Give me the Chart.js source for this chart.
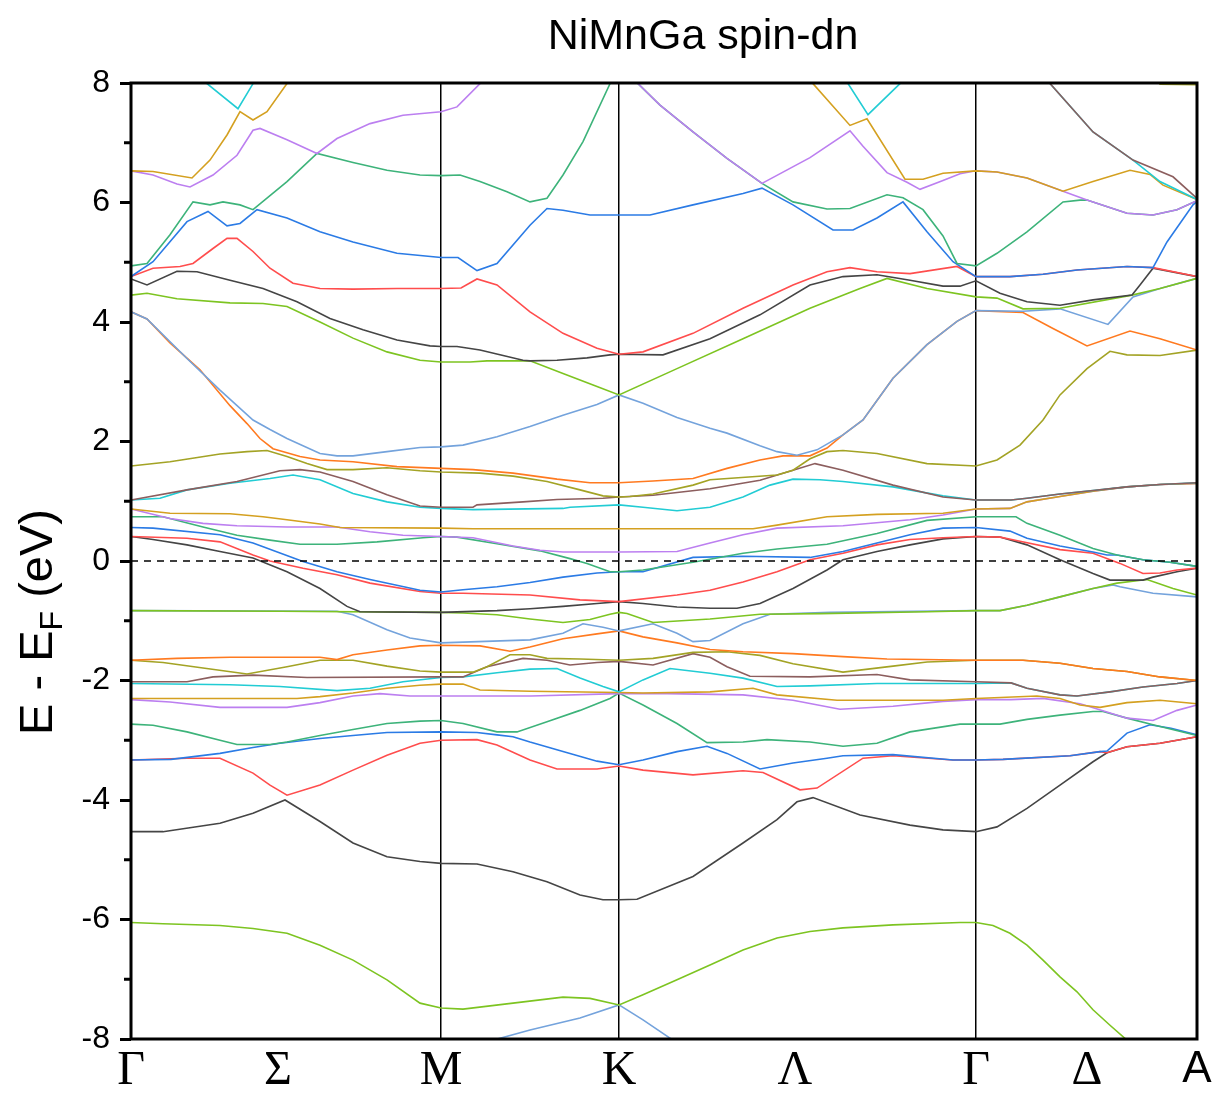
<!DOCTYPE html>
<html>
<head>
<meta charset="utf-8">
<title>NiMnGa spin-dn</title>
<script src="https://cdn.jsdelivr.net/npm/chart.js@4.4.1/dist/chart.umd.min.js"></script>
<style>
  html, body { margin: 0; padding: 0; background: #fff; }
  #wrap { width: 1215px; height: 1093px; }
</style>
</head>
<body>
<div id="wrap"><canvas id="bands" width="1215" height="1093"></canvas></div>
<script>
// path along the Brillouin zone (arb. units) and its labels
const kTicks  = [0, 147, 310, 488, 664, 845, 956, 1066];
const kLabels = ['Γ', 'Σ', 'M', 'K', 'Λ', 'Γ', 'Δ', 'A'];
const kLines  = [310, 488, 845];

const chartTitle = 'NiMnGa spin-dn';

// band colours, cycled with band index
const palette = ['#74a3dc', '#7dc421', '#454545', '#ff4d4d', '#2b7be5', '#3db37a',
                 '#bc7ff0', '#d4a020', '#22ccd4', '#8c5e5e', '#a3a325', '#ff7a20'];

// bands, [k, E - EF] in eV
const band00 = [[270,-8.6],[362,-8.02],[399,-7.85],[449,-7.65],[488,-7.43],[512,-7.68],[542,-8.02],[600,-8.6]];
const band01 = [[0,-6.05],[32,-6.07],[89,-6.1],[122,-6.15],[156,-6.23],[189,-6.43],[222,-6.68],[256,-7.01],[289,-7.4],[310,-7.48],[332,-7.5],[382,-7.4],[432,-7.3],[459,-7.32],[488,-7.43],[512,-7.26],[546,-7.01],[579,-6.76],[612,-6.51],[646,-6.31],[679,-6.2],[712,-6.14],[762,-6.09],[829,-6.05],[845,-6.05],[862,-6.1],[879,-6.23],[896,-6.43],[912,-6.68],[929,-6.96],[946,-7.21],[962,-7.51],[979,-7.77],[996,-8.02],[1066,-9.0]];
const band02 = [[0,-4.53],[32,-4.53],[89,-4.39],[122,-4.22],[154,-4.0],[189,-4.36],[222,-4.72],[256,-4.95],[289,-5.03],[310,-5.06],[346,-5.07],[382,-5.2],[416,-5.37],[449,-5.59],[472,-5.67],[488,-5.67],[506,-5.66],[562,-5.28],[612,-4.72],[646,-4.33],[666,-4.03],[682,-3.96],[729,-4.25],[779,-4.42],[812,-4.5],[845,-4.53],[866,-4.45],[896,-4.14],[929,-3.75],[962,-3.36],[976,-3.21],[996,-3.11],[1029,-3.05],[1066,-2.94]];
const band03 = [[0,-3.33],[56,-3.3],[89,-3.3],[122,-3.55],[139,-3.75],[156,-3.92],[189,-3.75],[222,-3.5],[256,-3.25],[289,-3.05],[310,-3.0],[346,-2.99],[366,-3.08],[399,-3.33],[426,-3.48],[466,-3.48],[488,-3.43],[512,-3.5],[562,-3.58],[612,-3.51],[632,-3.54],[669,-3.83],[686,-3.8],[732,-3.3],[762,-3.26],[822,-3.33],[845,-3.33],[872,-3.32],[939,-3.26],[969,-3.19],[976,-3.21],[996,-3.11],[1029,-3.05],[1066,-2.94]];
const band04 = [[0,-3.33],[40,-3.32],[89,-3.22],[122,-3.12],[149,-3.05],[189,-2.97],[222,-2.92],[256,-2.87],[310,-2.86],[346,-2.87],[366,-2.91],[382,-2.94],[399,-3.03],[432,-3.19],[466,-3.35],[488,-3.41],[512,-3.33],[546,-3.19],[576,-3.1],[596,-3.22],[629,-3.48],[662,-3.38],[696,-3.3],[712,-3.26],[762,-3.24],[822,-3.33],[845,-3.33],[872,-3.32],[939,-3.26],[969,-3.19],[976,-3.18],[996,-2.88],[1019,-2.74],[1040,-2.8],[1066,-2.91]];
const band05 = [[0,-2.73],[22,-2.75],[56,-2.86],[89,-3.0],[106,-3.07],[139,-3.07],[156,-3.03],[189,-2.92],[222,-2.82],[256,-2.72],[289,-2.68],[310,-2.67],[332,-2.72],[366,-2.86],[386,-2.86],[416,-2.69],[449,-2.5],[479,-2.3],[488,-2.21],[512,-2.41],[546,-2.72],[576,-3.04],[612,-3.03],[636,-2.99],[679,-3.03],[712,-3.1],[746,-3.05],[779,-2.86],[829,-2.73],[845,-2.73],[869,-2.73],[896,-2.65],[929,-2.58],[962,-2.52],[972,-2.52],[996,-2.63],[1022,-2.74],[1066,-2.92]];
const band06 = [[0,-2.32],[39,-2.36],[89,-2.45],[156,-2.45],[189,-2.37],[222,-2.26],[249,-2.22],[279,-2.26],[310,-2.26],[400,-2.26],[488,-2.22],[536,-2.22],[612,-2.24],[662,-2.33],[709,-2.48],[762,-2.43],[812,-2.35],[845,-2.32],[880,-2.32],[912,-2.3],[949,-2.39],[959,-2.44],[996,-2.63],[1022,-2.67],[1046,-2.5],[1066,-2.41]];
const band07 = [[0,-2.3],[166,-2.3],[189,-2.27],[222,-2.21],[256,-2.13],[289,-2.08],[310,-2.06],[332,-2.06],[349,-2.16],[399,-2.18],[488,-2.2],[512,-2.21],[579,-2.19],[622,-2.13],[646,-2.24],[706,-2.33],[812,-2.33],[845,-2.3],[906,-2.26],[929,-2.3],[949,-2.41],[969,-2.45],[996,-2.37],[1029,-2.33],[1066,-2.39]];
const band08 = [[0,-2.05],[99,-2.07],[149,-2.1],[206,-2.17],[239,-2.13],[272,-2.02],[310,-1.95],[332,-1.94],[366,-1.87],[399,-1.81],[426,-1.8],[449,-1.96],[472,-2.1],[488,-2.19],[512,-1.99],[539,-1.8],[579,-1.88],[612,-1.96],[646,-2.1],[679,-2.09],[746,-2.05],[845,-2.05],[880,-2.04],[896,-2.13],[929,-2.24],[946,-2.26],[979,-2.19],[1012,-2.11],[1046,-2.05],[1066,-2.0]];
const band09 = [[0,-2.02],[56,-2.02],[82,-1.94],[122,-1.91],[176,-1.95],[310,-1.94],[332,-1.94],[356,-1.77],[392,-1.63],[416,-1.66],[439,-1.74],[466,-1.7],[488,-1.68],[522,-1.74],[562,-1.55],[579,-1.61],[596,-1.77],[619,-1.93],[679,-1.94],[746,-1.9],[779,-1.99],[845,-2.02],[880,-2.04],[896,-2.13],[929,-2.24],[946,-2.26],[979,-2.19],[1012,-2.11],[1046,-2.05],[1066,-2.0]];
const band10 = [[0,-1.66],[32,-1.7],[72,-1.79],[116,-1.89],[156,-1.77],[189,-1.66],[222,-1.66],[256,-1.76],[289,-1.84],[310,-1.86],[342,-1.86],[356,-1.77],[379,-1.57],[399,-1.57],[416,-1.63],[449,-1.64],[488,-1.66],[522,-1.63],[562,-1.53],[596,-1.52],[629,-1.58],[662,-1.72],[712,-1.86],[762,-1.76],[796,-1.69],[845,-1.66],[892,-1.66],[929,-1.71],[962,-1.8],[996,-1.85],[1029,-1.94],[1066,-2.0]];
const band11 = [[0,-1.66],[46,-1.63],[99,-1.61],[189,-1.61],[206,-1.65],[222,-1.57],[256,-1.49],[289,-1.42],[310,-1.41],[349,-1.42],[379,-1.51],[399,-1.44],[432,-1.3],[466,-1.22],[488,-1.17],[512,-1.27],[546,-1.37],[579,-1.48],[612,-1.52],[662,-1.55],[712,-1.6],[756,-1.64],[845,-1.66],[892,-1.66],[929,-1.71],[962,-1.8],[996,-1.85],[1029,-1.94],[1066,-2.0]];
const band12 = [[0,-0.83],[206,-0.84],[222,-0.9],[256,-1.15],[279,-1.29],[310,-1.37],[399,-1.32],[432,-1.21],[452,-1.05],[472,-1.11],[488,-1.17],[522,-1.05],[546,-1.21],[562,-1.35],[579,-1.33],[612,-1.05],[639,-0.89],[699,-0.86],[845,-0.83],[869,-0.83],[896,-0.74],[929,-0.6],[962,-0.46],[982,-0.4],[989,-0.43],[1022,-0.54],[1066,-0.6]];
const band13 = [[0,-0.83],[150,-0.84],[310,-0.86],[332,-0.87],[366,-0.9],[399,-0.97],[432,-1.03],[459,-0.98],[479,-0.89],[488,-0.86],[496,-0.88],[522,-1.03],[579,-0.97],[629,-0.89],[689,-0.88],[796,-0.85],[845,-0.83],[869,-0.83],[896,-0.74],[929,-0.6],[962,-0.46],[986,-0.37],[1016,-0.31],[1042,-0.46],[1066,-0.57]];
const band14 = [[0,0.41],[22,0.36],[56,0.27],[89,0.16],[122,0.05],[156,-0.18],[189,-0.46],[216,-0.76],[229,-0.85],[310,-0.86],[366,-0.83],[399,-0.8],[432,-0.76],[466,-0.71],[488,-0.68],[512,-0.71],[546,-0.77],[579,-0.79],[606,-0.79],[629,-0.71],[662,-0.46],[696,-0.15],[712,0.02],[746,0.16],[779,0.27],[812,0.37],[845,0.41],[869,0.4],[896,0.27],[929,0.02],[962,-0.21],[979,-0.32],[1012,-0.32],[1022,-0.27],[1046,-0.18],[1066,-0.12]];
const band15 = [[0,0.41],[56,0.38],[89,0.32],[122,0.1],[139,0.0],[172,-0.12],[206,-0.23],[239,-0.37],[289,-0.51],[310,-0.54],[332,-0.54],[399,-0.57],[449,-0.65],[488,-0.68],[546,-0.57],[579,-0.49],[612,-0.35],[646,-0.18],[679,0.02],[712,0.13],[746,0.27],[779,0.36],[812,0.39],[845,0.41],[869,0.4],[889,0.33],[929,0.19],[962,0.13],[989,-0.04],[1012,-0.21],[1029,-0.2],[1046,-0.15],[1066,-0.12]];
const band16 = [[0,0.56],[22,0.55],[89,0.44],[122,0.3],[172,-0.01],[206,-0.18],[239,-0.31],[289,-0.49],[310,-0.52],[332,-0.48],[366,-0.43],[399,-0.36],[432,-0.27],[466,-0.2],[488,-0.18],[512,-0.18],[562,0.06],[612,0.08],[679,0.06],[712,0.16],[746,0.3],[779,0.44],[812,0.55],[845,0.56],[879,0.5],[896,0.38],[929,0.25],[962,0.15],[976,0.1],[986,0.1],[1012,0.02],[1039,-0.02],[1066,-0.09]];
const band17 = [[0,0.74],[32,0.74],[72,0.57],[106,0.43],[139,0.35],[169,0.28],[206,0.28],[246,0.32],[292,0.39],[310,0.41],[326,0.4],[366,0.29],[409,0.17],[439,0.04],[456,-0.04],[479,-0.18],[488,-0.18],[512,-0.15],[562,-0.02],[612,0.13],[646,0.2],[696,0.28],[746,0.46],[796,0.68],[845,0.74],[885,0.74],[896,0.63],[929,0.43],[962,0.21],[986,0.1],[1012,0.02],[1039,-0.02],[1066,-0.09]];
const band18 = [[0,0.87],[39,0.71],[72,0.63],[106,0.59],[156,0.57],[206,0.57],[239,0.49],[272,0.43],[310,0.41],[342,0.39],[382,0.25],[409,0.18],[432,0.15],[488,0.15],[546,0.16],[579,0.3],[612,0.44],[646,0.55],[712,0.59],[779,0.69],[812,0.77],[845,0.87],[879,0.88],[896,0.99],[929,1.08],[962,1.17],[996,1.24],[1029,1.28],[1066,1.3]];
const band19 = [[0,0.87],[39,0.8],[99,0.79],[132,0.74],[156,0.69],[189,0.62],[209,0.56],[310,0.55],[342,0.54],[488,0.54],[622,0.54],[646,0.6],[696,0.74],[746,0.78],[812,0.8],[845,0.87],[879,0.88],[896,0.99],[929,1.08],[962,1.17],[996,1.24],[1029,1.28],[1066,1.3]];
const band20 = [[0,1.02],[29,1.05],[56,1.19],[99,1.3],[139,1.38],[162,1.44],[189,1.36],[222,1.13],[256,0.99],[289,0.9],[310,0.88],[342,0.86],[432,0.88],[439,0.9],[488,0.94],[512,0.9],[546,0.84],[579,0.9],[612,1.07],[639,1.27],[662,1.37],[689,1.36],[712,1.33],[762,1.24],[812,1.09],[845,1.02],[880,1.02],[896,1.05],[929,1.12],[962,1.18],[996,1.24],[1029,1.28],[1066,1.31]];
const band21 = [[0,1.02],[56,1.19],[106,1.33],[149,1.51],[169,1.53],[189,1.49],[222,1.33],[256,1.11],[289,0.92],[310,0.9],[342,0.9],[346,0.94],[392,0.99],[426,1.03],[472,1.05],[488,1.07],[522,1.1],[579,1.21],[629,1.35],[662,1.52],[684,1.63],[712,1.52],[762,1.27],[812,1.07],[845,1.02],[880,1.02],[896,1.05],[929,1.12],[962,1.18],[996,1.24],[1029,1.28],[1066,1.31]];
const band22 = [[0,1.59],[39,1.66],[89,1.79],[116,1.83],[136,1.85],[156,1.75],[176,1.63],[196,1.53],[222,1.53],[256,1.56],[289,1.51],[310,1.49],[349,1.47],[382,1.42],[416,1.33],[449,1.19],[472,1.09],[488,1.07],[499,1.08],[522,1.12],[562,1.27],[579,1.36],[646,1.44],[662,1.52],[679,1.71],[696,1.83],[712,1.85],[746,1.8],[796,1.63],[845,1.59],[866,1.69],[889,1.94],[912,2.36],[929,2.78],[956,3.22],[979,3.51],[996,3.45],[1029,3.44],[1066,3.53]];
const band23 = [[0,4.17],[16,4.05],[39,3.65],[69,3.2],[99,2.6],[116,2.3],[129,2.05],[142,1.88],[169,1.75],[189,1.69],[222,1.66],[266,1.58],[310,1.55],[342,1.53],[382,1.47],[426,1.37],[459,1.31],[488,1.31],[522,1.34],[562,1.38],[596,1.55],[629,1.69],[652,1.76],[679,1.76],[696,1.89],[712,2.11],[732,2.36],[762,3.06],[796,3.62],[826,4.01],[845,4.19],[892,4.16],[922,3.89],[956,3.6],[999,3.85],[1029,3.72],[1066,3.53]];
const band24 = [[0,4.17],[16,4.05],[56,3.39],[89,2.86],[122,2.36],[139,2.2],[156,2.05],[189,1.8],[206,1.76],[222,1.76],[256,1.83],[289,1.9],[310,1.91],[332,1.94],[366,2.08],[399,2.25],[432,2.44],[466,2.62],[488,2.78],[512,2.64],[546,2.4],[579,2.22],[596,2.14],[629,1.93],[646,1.83],[666,1.77],[686,1.86],[712,2.11],[732,2.36],[762,3.06],[796,3.62],[826,4.01],[845,4.19],[892,4.18],[929,4.22],[977,3.96],[1002,4.42],[1029,4.56],[1066,4.73]];
const band25 = [[0,4.45],[16,4.48],[46,4.39],[99,4.32],[132,4.31],[156,4.26],[189,4.0],[222,3.73],[256,3.5],[289,3.36],[310,3.33],[339,3.33],[356,3.35],[399,3.35],[432,3.14],[466,2.92],[488,2.78],[546,3.22],[612,3.72],[679,4.23],[729,4.56],[756,4.73],[796,4.56],[845,4.42],[866,4.4],[892,4.22],[929,4.23],[1001,4.45],[1029,4.56],[1066,4.73]];
const band26 = [[0,4.72],[16,4.62],[46,4.85],[66,4.84],[99,4.7],[132,4.56],[166,4.34],[199,4.06],[232,3.87],[266,3.7],[299,3.6],[310,3.59],[326,3.59],[349,3.53],[392,3.36],[399,3.35],[426,3.36],[456,3.4],[479,3.45],[488,3.46],[532,3.45],[579,3.72],[629,4.12],[679,4.62],[712,4.76],[746,4.79],[779,4.7],[812,4.6],[829,4.6],[845,4.69],[869,4.48],[896,4.34],[929,4.28],[962,4.37],[1001,4.45],[1009,4.62],[1022,4.9],[1066,4.76]];
const band27 = [[0,4.76],[22,4.9],[49,4.93],[62,4.98],[82,5.23],[96,5.4],[106,5.4],[122,5.18],[139,4.9],[162,4.65],[189,4.56],[222,4.55],[266,4.56],[310,4.56],[330,4.57],[346,4.72],[366,4.62],[399,4.17],[432,3.81],[466,3.56],[488,3.46],[512,3.5],[562,3.81],[612,4.23],[662,4.62],[696,4.84],[719,4.91],[746,4.84],[779,4.81],[826,4.93],[845,4.76],[879,4.76],[912,4.8],[946,4.87],[996,4.93],[1022,4.91],[1066,4.76]];
const band28 = [[0,4.76],[22,5.01],[56,5.68],[77,5.85],[96,5.61],[109,5.65],[126,5.88],[156,5.74],[189,5.51],[222,5.34],[266,5.15],[310,5.08],[327,5.08],[346,4.86],[366,4.98],[399,5.62],[416,5.9],[432,5.87],[459,5.79],[488,5.79],[519,5.79],[562,5.96],[612,6.15],[631,6.24],[662,5.96],[702,5.54],[722,5.54],[746,5.74],[772,6.01],[796,5.51],[822,5.01],[845,4.76],[879,4.76],[912,4.8],[946,4.87],[996,4.93],[1022,4.91],[1036,5.34],[1062,5.96],[1066,6.02]];
const band29 = [[0,4.94],[16,4.98],[39,5.46],[62,6.01],[79,5.96],[92,6.01],[109,5.96],[122,5.88],[156,6.35],[186,6.82],[222,6.67],[256,6.54],[289,6.46],[310,6.45],[329,6.46],[349,6.35],[376,6.18],[399,6.01],[416,6.07],[432,6.46],[452,7.02],[479,7.99],[488,8.15],[507,7.99],[529,7.63],[562,7.18],[596,6.74],[631,6.32],[662,6.01],[696,5.89],[719,5.9],[756,6.13],[772,6.08],[792,5.88],[812,5.44],[826,4.98],[845,4.94],[866,5.15],[896,5.51],[932,6.01],[949,6.04],[956,6.04],[996,5.82],[1022,5.79],[1046,5.88],[1066,6.03]];
const band30 = [[0,6.53],[22,6.46],[46,6.31],[59,6.26],[82,6.46],[106,6.79],[122,7.21],[129,7.24],[156,7.05],[186,6.82],[206,7.07],[239,7.32],[272,7.46],[310,7.52],[326,7.6],[349,7.99],[420,8.5],[488,8.4],[500,8.2],[507,7.99],[529,7.63],[562,7.18],[596,6.74],[631,6.32],[679,6.75],[719,7.2],[732,6.94],[756,6.5],[776,6.34],[789,6.22],[812,6.37],[829,6.48],[845,6.53],[866,6.51],[896,6.41],[932,6.19],[956,6.04],[996,5.82],[1022,5.79],[1046,5.88],[1066,6.03]];
const band31 = [[0,6.53],[22,6.52],[61,6.41],[79,6.71],[96,7.13],[109,7.52],[122,7.38],[136,7.52],[156,7.99],[180,8.5],[400,9.0],[600,8.6],[682,7.99],[719,7.29],[736,7.4],[774,6.39],[792,6.39],[812,6.49],[845,6.53],[866,6.51],[896,6.41],[932,6.19],[962,6.35],[999,6.54],[1019,6.47],[1032,6.29],[1066,6.05]];
const band32 = [[0,8.7],[40,8.6],[76,7.99],[107,7.57],[122,7.99],[150,8.6],[400,9.2],[690,8.4],[717,7.99],[737,7.47],[769,7.99],[800,8.5],[845,8.7],[905,8.3],[919,7.99],[962,7.18],[1002,6.71],[1029,6.35],[1066,6.05]];
const band33 = [[0,9.0],[400,9.5],[845,9.0],[905,8.3],[919,7.99],[962,7.18],[1002,6.71],[1042,6.43],[1066,6.07]];
const band34 = [[1010,8.4],[1029,7.98],[1066,7.97]];

const bands = [band00, band01, band02, band03, band04, band05, band06, band07, band08, band09,
               band10, band11, band12, band13, band14, band15, band16, band17, band18, band19,
               band20, band21, band22, band23, band24, band25, band26, band27, band28, band29,
               band30, band31, band32, band33, band34];

const kMax = kTicks[kTicks.length - 1];
const fermi = [[0, 0], [kMax, 0]];

const datasets = bands.map((b, i) => ({
  label: 'band ' + i,
  data: b.map(p => ({x: p[0], y: p[1]})),
  showLine: true,
  borderColor: palette[i % palette.length],
  borderWidth: 1.6,
  pointRadius: 0,
  fill: false,
  order: 100 - i
}));
datasets.push({
  label: 'EF',
  data: fermi.map(p => ({x: p[0], y: p[1]})),
  showLine: true,
  borderColor: '#000',
  borderWidth: 1.5,
  borderDash: [7, 6],
  pointRadius: 0,
  order: 0
});

// frame, minor ticks and the two titles
const decor = {
  id: 'decor',
  afterDraw(chart) {
    const {ctx, chartArea: a, scales: {y}} = chart;
    ctx.save();
    ctx.strokeStyle = '#000';
    ctx.lineWidth = 3;
    for (let v = y.min + 1; v < y.max; v += 2) {
      const py = y.getPixelForValue(v);
      ctx.beginPath();
      ctx.moveTo(a.left - 7, py);
      ctx.lineTo(a.left, py);
      ctx.stroke();
    }
    ctx.strokeRect(a.left, a.top, a.right - a.left, a.bottom - a.top);

    ctx.fillStyle = '#000';
    ctx.font = '43px "Liberation Sans", Arial, sans-serif';
    ctx.textAlign = 'center';
    ctx.textBaseline = 'alphabetic';
    ctx.fillText(chartTitle, 703, 49);

    // y title with subscript F
    const big = '47px "Liberation Sans", Arial, sans-serif';
    const small = '32px "Liberation Sans", Arial, sans-serif';
    const parts = [['E - E', big, 0], ['F', small, 10], [' (eV)', big, 0]];
    let total = 0;
    for (const p of parts) { ctx.font = p[1]; total += ctx.measureText(p[0]).width; }
    ctx.translate(36, 622);
    ctx.rotate(-Math.PI / 2);
    ctx.textAlign = 'left';
    let x = -total / 2;
    for (const p of parts) {
      ctx.font = p[1];
      ctx.fillText(p[0], x, 16 + p[2]);
      x += ctx.measureText(p[0]).width;
    }
    ctx.restore();
  }
};

new Chart(document.getElementById('bands'), {
  type: 'scatter',
  data: {datasets},
  options: {
    responsive: false,
    animation: false,
    layout: {padding: {top: 83, right: 18, left: 0, bottom: 0}},
    plugins: {legend: {display: false}, tooltip: {enabled: false}},
    scales: {
      x: {
        type: 'linear',
        min: 0,
        max: kMax,
        afterBuildTicks: scale => { scale.ticks = kTicks.map(v => ({value: v})); },
        afterFit: scale => { scale.height = 54; scale.paddingLeft = 0; scale.paddingRight = 0; },
        ticks: {
          autoSkip: false,
          maxRotation: 0,
          minRotation: 0,
          padding: 4,
          color: '#000',
          callback: (v, i) => kLabels[i],
          font: c => c.index === kLabels.length - 1
            ? {family: '"Liberation Sans", Arial, sans-serif', size: 44}
            : {family: '"Liberation Serif", "Times New Roman", serif', size: 48}
        },
        grid: {
          drawTicks: false,
          lineWidth: 1.5,
          color: c => (c.tick && kLines.includes(c.tick.value)) ? '#000' : 'rgba(0,0,0,0)'
        },
        border: {display: false}
      },
      y: {
        min: -8,
        max: 8,
        afterFit: scale => { scale.width = 131; scale.paddingTop = 0; scale.paddingBottom = 0; },
        ticks: {
          stepSize: 2,
          padding: 10,
          color: '#000',
          font: {family: '"Liberation Sans", Arial, sans-serif', size: 32}
        },
        grid: {
          drawOnChartArea: false,
          drawTicks: true,
          tickLength: 11,
          tickWidth: 3,
          tickColor: '#000'
        },
        border: {display: false}
      }
    }
  },
  plugins: [decor]
});
</script>
</body>
</html>
